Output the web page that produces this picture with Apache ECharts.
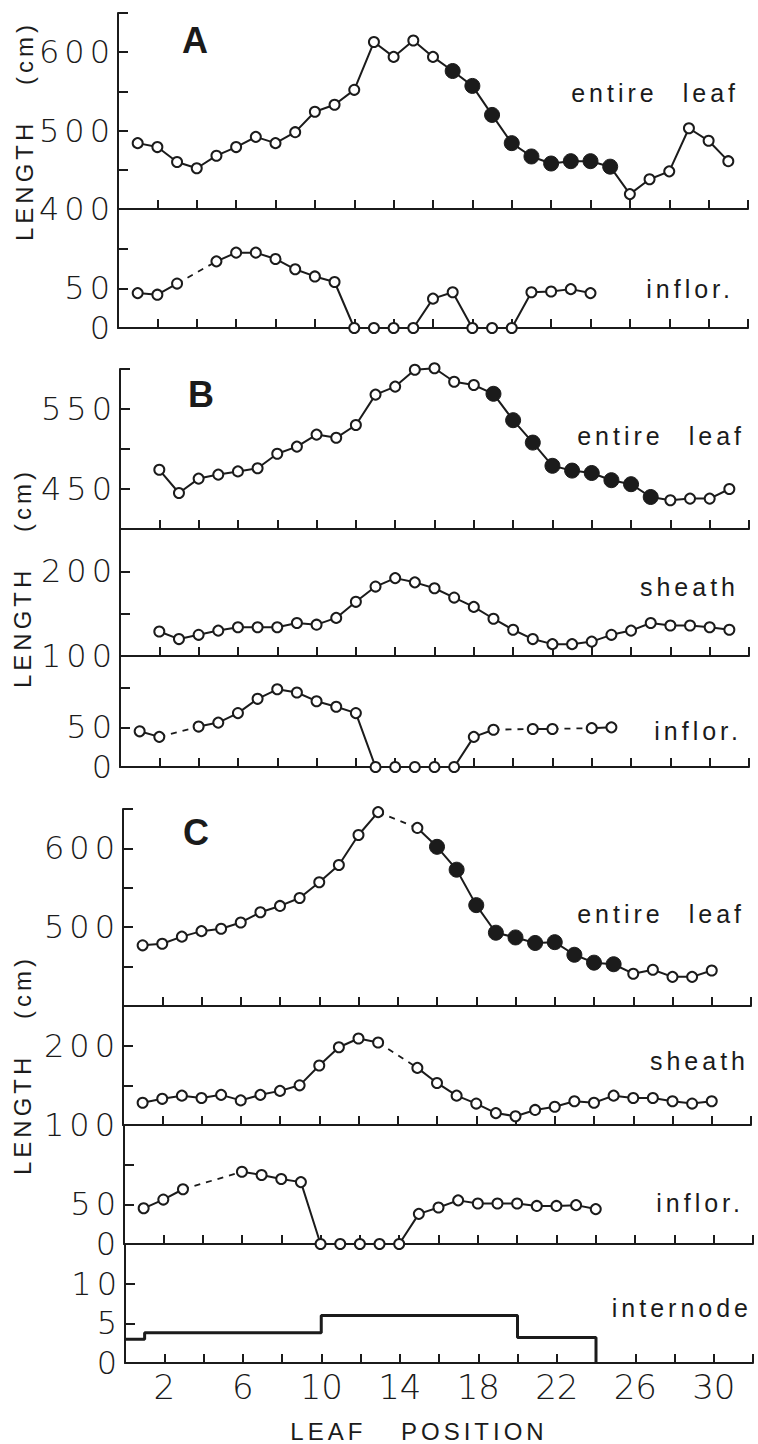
<!DOCTYPE html>
<html>
<head>
<meta charset="utf-8">
<title>Leaf length by leaf position</title>
<script src="https://cdn.jsdelivr.net/npm/echarts@6/dist/echarts.min.js"></script>
<style>
html, body { margin: 0; padding: 0; background: #fff; }
#chart { width: 758px; height: 1444px; }
/* the figure uses wide letter spacing; svg text picks it up by font size */
#chart text[style*="25px"] { letter-spacing: 4px; word-spacing: 14px; }
#chart text[style*="24px"] { letter-spacing: 4px; word-spacing: 24px; }
#chart text[style*="32px"] { letter-spacing: 5px; }
</style>
</head>
<body>
<div id="chart"></div>
<script>
// values by leaf position, starting at 1; null = no point (bridged by a dashed line)
var leafA = [484, 479, 460, 452, 468, 479, 492, 484, 498, 524, 533, 552, 613, 594, 615, 594, 576, 557, 520, 484, 467, 458, 461, 461, 454, 419, 438, 448, 503, 487, 461];
var inflorA = [44, 42, 56, null, 84, 95, 95, 87, 74, 65, 58, 0, 0, 0, 0, 37, 45, 0, 0, 0, 45, 46, 49, 44];
var leafB = [null, 474, 445, 463, 468, 472, 476, 494, 503, 518, 514, 530, 568, 578, 599, 601, 584, 580, 569, 536, 508, 479, 473, 470, 461, 456, 440, 436, 438, 438, 450];
var sheathB = [null, 129, 120, 125, 130, 134, 134, 134, 139, 137, 145, 164, 182, 192, 187, 180, 169, 158, 144, 131, 120, 114, 114, 117, 125, 130, 139, 136, 136, 134, 131];
var inflorB = [45, 38, null, 51, 56, 68, 86, 98, 94, 83, 76, 68, 0, 0, 0, 0, 0, 38, 47, null, 48, 48, null, 49, 50];
var leafC = [477, 479, 488, 495, 498, 506, 519, 527, 537, 557, 579, 617, 646, null, 626, 602, 573, 528, 493, 487, 480, 481, 465, 455, 453, 441, 446, 437, 437, 445];
var sheathC = [128, 133, 137, 134, 138, 131, 138, 143, 150, 175, 198, 209, 204, null, 172, 153, 137, 127, 115, 111, 119, 123, 130, 128, 137, 134, 134, 130, 127, 130];
var inflorC = [45, 56, 69, null, null, 91, 87, 82, 78, 0, 0, 0, 0, 0, 38, 46, 55, 51, 51, 51, 48, 48, 49, 44];

// solid circles on the entire-leaf curves: first and last leaf position
var filledA = [17, 25];
var filledB = [19, 27];
var filledC = [16, 25];

// internode length: leaf position where each step starts, and its length
var internodeAt = [0, 1, 10, 20, 24];
var internodeLen = [3, 3.8, 6, 3.2, 0];

// tick labels
var xLabels = [2, 6, 10, 14, 18, 22, 26, 30];
var yLabelsLeafA = [400, 500, 600];
var yLabelsLeafB = [450, 550];
var yLabelsLeafC = [500, 600];
var yLabelsSheath = [100, 200];
var yLabelsInflor = [0, 50];
var yLabelsInternode = [0, 5, 10];

var INK = '#1b1b1b';

var panels = [
    { left: 118, top: 13, height: 196, width: 630, min: 400, max: 650, labels: yLabelsLeafA, data: leafA, filled: filledA },
    { left: 118, top: 209, height: 119, width: 630, min: 0, max: 150, labels: yLabelsInflor, data: inflorA },
    { left: 120, top: 369, height: 160, width: 629, min: 400, max: 600, labels: yLabelsLeafB, data: leafB, filled: filledB },
    { left: 120, top: 529, height: 127, width: 629, min: 100, max: 250, labels: yLabelsSheath, data: sheathB },
    { left: 120, top: 656, height: 111, width: 629, min: 0, max: 140, labels: yLabelsInflor, data: inflorB },
    { left: 123, top: 809, height: 197, width: 628, min: 400, max: 650, labels: yLabelsLeafC, data: leafC, filled: filledC },
    { left: 123, top: 1006, height: 119, width: 628, min: 100, max: 250, labels: yLabelsSheath, data: sheathC },
    { left: 124, top: 1125, height: 119, width: 629, min: 0, max: 150, labels: yLabelsInflor, data: inflorC },
    { left: 125, top: 1244, height: 119, width: 628, min: 0, max: 15, interval: 5, labels: yLabelsInternode }
];
var last = panels.length - 1;

function pointSeries(i, values, filled) {
    var pts = values.map(function (v, k) {
        var pos = k + 1;
        if (v == null) {
            return [pos, '-'];
        }
        var solid = filled && pos >= filled[0] && pos <= filled[1];
        return {
            value: [pos, v],
            symbolSize: solid ? 15 : 10,
            itemStyle: solid
                ? { color: INK, borderColor: INK, borderWidth: 1 }
                : { color: '#fff', borderColor: INK, borderWidth: 2 }
        };
    });
    return {
        type: 'line',
        xAxisIndex: i,
        yAxisIndex: i,
        data: pts,
        symbol: 'circle',
        showAllSymbol: true,
        connectNulls: false,
        clip: false,
        lineStyle: { color: INK, width: 2 },
        z: 3
    };
}

// dashed bridge over each run of missing positions
function gapSeries(i, values) {
    var out = [];
    for (var k = 1; k < values.length; k++) {
        if (values[k] == null && values[k - 1] != null) {
            var e = k;
            while (e < values.length && values[e] == null) e++;
            if (e < values.length) {
                out.push({
                    type: 'line',
                    xAxisIndex: i,
                    yAxisIndex: i,
                    data: [[k, values[k - 1]], [e + 1, values[e]]],
                    symbol: 'none',
                    clip: false,
                    lineStyle: { color: INK, width: 1.8, type: [6, 6] },
                    z: 2
                });
            }
        }
    }
    return out;
}

var series = [];
panels.forEach(function (p, i) {
    if (p.data) {
        series.push(pointSeries(i, p.data, p.filled));
        series = series.concat(gapSeries(i, p.data));
    }
});
series.push({
    type: 'line',
    xAxisIndex: last,
    yAxisIndex: last,
    step: 'end',
    symbol: 'none',
    clip: false,
    data: internodeAt.map(function (x, k) { return [x, internodeLen[k]]; }),
    lineStyle: { color: INK, width: 3 }
});

var axisLineStyle = { color: INK, width: 2 };

var option = {
    animation: false,
    backgroundColor: '#fff',
    grid: panels.map(function (p) {
        return { left: p.left, top: p.top, width: p.width, height: p.height };
    }),
    xAxis: panels.map(function (p, i) {
        return {
            type: 'value',
            gridIndex: i,
            min: 0,
            max: 32,
            interval: 2,
            axisLine: { onZero: false, lineStyle: axisLineStyle },
            axisTick: { inside: true, length: 9, lineStyle: axisLineStyle },
            axisLabel: {
                show: i === last,
                margin: 7,
                color: INK,
                fontFamily: 'DejaVu Sans',
                fontSize: 34,
                fontWeight: 200,
                formatter: function (v) { return xLabels.indexOf(v) >= 0 ? String(v) : ''; }
            },
            splitLine: { show: false }
        };
    }),
    yAxis: panels.map(function (p, i) {
        return {
            type: 'value',
            gridIndex: i,
            min: p.min,
            max: p.max,
            interval: p.interval || 50,
            axisLine: { show: true, onZero: false, lineStyle: axisLineStyle },
            axisTick: { show: true, inside: true, length: 10, lineStyle: axisLineStyle },
            axisLabel: {
                margin: 3,
                color: INK,
                fontFamily: 'DejaVu Sans',
                fontSize: 32,
                fontWeight: 200,
                formatter: function (v) { return p.labels.indexOf(v) >= 0 ? String(v) : ''; }
            },
            splitLine: { show: false }
        };
    }),
    series: series,
    graphic: [
        { type: 'text', left: 182, top: 22, style: { text: 'A', font: 'bold 36px "Liberation Sans"', fill: INK } },
        { type: 'text', left: 188, top: 376, style: { text: 'B', font: 'bold 36px "Liberation Sans"', fill: INK } },
        { type: 'text', left: 183, top: 814, style: { text: 'C', font: 'bold 36px "Liberation Sans"', fill: INK } },

        { type: 'text', x: 24, y: 131, rotation: Math.PI / 2, style: { text: 'LENGTH (cm)', font: '24px "Liberation Sans"', fill: INK, textAlign: 'center', textVerticalAlign: 'middle' } },
        { type: 'text', x: 22, y: 578, rotation: Math.PI / 2, style: { text: 'LENGTH (cm)', font: '24px "Liberation Sans"', fill: INK, textAlign: 'center', textVerticalAlign: 'middle' } },
        { type: 'text', x: 22, y: 1065, rotation: Math.PI / 2, style: { text: 'LENGTH (cm)', font: '24px "Liberation Sans"', fill: INK, textAlign: 'center', textVerticalAlign: 'middle' } },
        { type: 'text', x: 419, y: 1431, style: { text: 'LEAF POSITION', font: '24px "Liberation Sans"', fill: INK, textAlign: 'center', textVerticalAlign: 'middle' } },

        { type: 'text', x: 739, y: 93, style: { text: 'entire leaf', font: '25px "Liberation Sans"', fill: INK, textAlign: 'right', textVerticalAlign: 'middle' } },
        { type: 'text', x: 734, y: 289, style: { text: 'inflor.', font: '25px "Liberation Sans"', fill: INK, textAlign: 'right', textVerticalAlign: 'middle' } },
        { type: 'text', x: 745, y: 436, style: { text: 'entire leaf', font: '25px "Liberation Sans"', fill: INK, textAlign: 'right', textVerticalAlign: 'middle' } },
        { type: 'text', x: 739, y: 587, style: { text: 'sheath', font: '25px "Liberation Sans"', fill: INK, textAlign: 'right', textVerticalAlign: 'middle' } },
        { type: 'text', x: 742, y: 731, style: { text: 'inflor.', font: '25px "Liberation Sans"', fill: INK, textAlign: 'right', textVerticalAlign: 'middle' } },
        { type: 'text', x: 745, y: 914, style: { text: 'entire leaf', font: '25px "Liberation Sans"', fill: INK, textAlign: 'right', textVerticalAlign: 'middle' } },
        { type: 'text', x: 749, y: 1061, style: { text: 'sheath', font: '25px "Liberation Sans"', fill: INK, textAlign: 'right', textVerticalAlign: 'middle' } },
        { type: 'text', x: 744, y: 1203, style: { text: 'inflor.', font: '25px "Liberation Sans"', fill: INK, textAlign: 'right', textVerticalAlign: 'middle' } },
        { type: 'text', x: 752, y: 1308, style: { text: 'internode', font: '25px "Liberation Sans"', fill: INK, textAlign: 'right', textVerticalAlign: 'middle' } }
    ]
};

var myChart = echarts.init(document.getElementById('chart'), null, { renderer: 'svg' });
myChart.setOption(option);
</script>
</body>
</html>
